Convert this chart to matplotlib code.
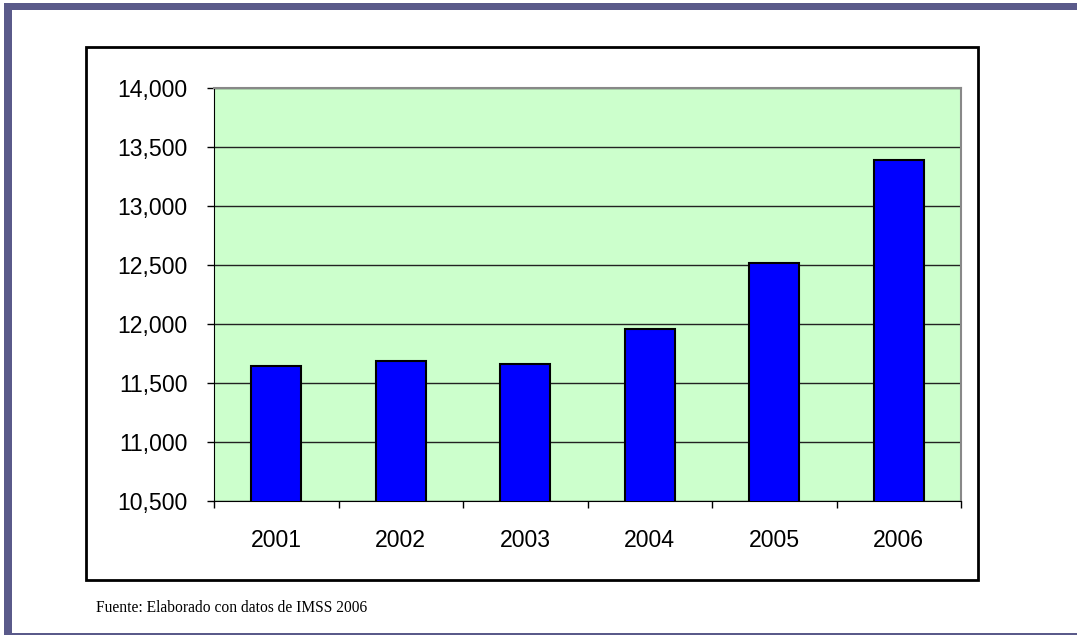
import matplotlib.pyplot as plt
from matplotlib.patches import Rectangle
from matplotlib.ticker import FuncFormatter, FixedLocator

years = ['2001', '2002', '2003', '2004', '2005', '2006']
valores = [11645, 11690, 11658, 11955, 12515, 13390]
y_ticks = [10500, 11000, 11500, 12000, 12500, 13000, 13500, 14000]

W, H = 1077, 635
fig = plt.figure(figsize=(W / 100, H / 100), dpi=100)
fig.patch.set_facecolor('white')

# marco morado de la diapositiva
borde = '#5a5a8a'
fig.patches.append(Rectangle((4 / W, 1 - 10 / H), 1 - 4 / W, 7 / H, transform=fig.transFigure,
                             facecolor=borde, edgecolor='none', zorder=-2))
fig.patches.append(Rectangle((4 / W, 2 / H), 8 / W, 1 - 12 / H, transform=fig.transFigure,
                             facecolor=borde, edgecolor='none', zorder=-2))
fig.patches.append(Rectangle((4 / W, 0), 1 - 4 / W, 2.5 / H, transform=fig.transFigure,
                             facecolor=borde, edgecolor='none', zorder=-2))

# recuadro negro del grafico
fig.patches.append(Rectangle((86 / W, 1 - 580 / H), (978 - 86) / W, (580 - 47) / H,
                             transform=fig.transFigure, facecolor='white',
                             edgecolor='black', linewidth=2, zorder=-1))

ax = fig.add_axes([214 / W, 1 - 501 / H, (961 - 214) / W, (501 - 88) / H])
ax.set_zorder(1)
ax.set_facecolor('#ccffcc')
x = list(range(len(years)))
ax.bar(x, valores, width=0.4, color='#0000ff', edgecolor='black', linewidth=1.5, zorder=3)
ax.set_ylim(10500, 14000)
ax.set_xlim(-0.5, len(years) - 0.5)

ax.set_yticks(y_ticks)
ax.yaxis.set_major_formatter(FuncFormatter(lambda v, p: f'{int(v):,}'))
ax.yaxis.grid(True, color='#222222', linewidth=1)
ax.set_axisbelow(True)

ax.set_xticks(x)
ax.set_xticklabels(years)
ax.xaxis.set_minor_locator(FixedLocator([i - 0.5 for i in range(len(years) + 1)]))
ax.tick_params(axis='x', which='major', length=0, pad=20)
ax.tick_params(axis='x', which='minor', length=5, width=1, direction='out', color='black')
ax.tick_params(axis='y', length=5, width=1, pad=14, direction='out')

for lbl in ax.get_xticklabels() + ax.get_yticklabels():
    lbl.set_fontfamily('Liberation Sans')
    lbl.set_fontsize(16.6)

ax.spines['top'].set_color('#888888')
ax.spines['right'].set_color('#888888')
ax.spines['top'].set_linewidth(1.5)
ax.spines['right'].set_linewidth(1.5)
ax.spines['left'].set_color('black')
ax.spines['bottom'].set_color('black')

fig.text(96 / W, 1 - 608 / H, 'Fuente: Elaborado con datos de IMSS 2006',
         fontfamily='Liberation Serif', fontsize=11.2, va='center', ha='left')

fig.savefig('out.png', dpi=100)
